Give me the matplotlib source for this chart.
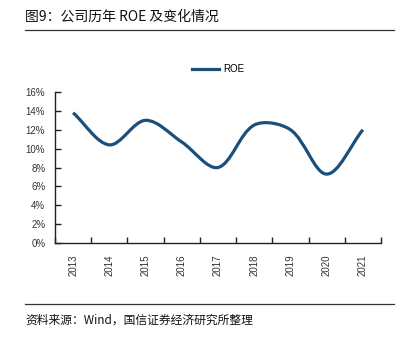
import matplotlib
matplotlib.use('Agg')
import matplotlib.pyplot as plt
import numpy as np
from matplotlib.path import Path
from matplotlib.patches import PathPatch
from matplotlib.lines import Line2D
from matplotlib.ticker import FuncFormatter, MultipleLocator

plt.rcParams['font.family'] = ['Liberation Sans', 'Noto Sans CJK SC', 'DejaVu Sans']

# 数据
years = ['2013', '2014', '2015', '2016', '2017', '2018', '2019', '2020', '2021']
roe = [13.8, 10.4, 13.0, 10.7, 8.0, 12.5, 12.0, 7.3, 12.0]

line_color = '#1A4F7C'

fig = plt.figure(figsize=(4.09, 3.48), dpi=100)
ax = fig.add_axes([55 / 409, 1 - 243 / 348, (381 - 55) / 409, (243 - 92) / 348])

ax.set_xlim(-0.5, len(years) - 0.5)
ax.set_ylim(0, 16)

# 平滑曲线：类似 Excel 的平滑线，控制点按屏幕上相邻线段长度分配
xs = list(range(len(years)))
P = ax.transData.transform(np.column_stack([xs, roe]))
n = len(P)
verts = [P[0]]
codes = [Path.MOVETO]
t = 1 / 3
for i in range(n - 1):
    p0 = P[i - 1] if i > 0 else P[i]
    p1, p2 = P[i], P[i + 1]
    p3 = P[i + 2] if i + 2 < n else P[i + 1]
    d01 = np.hypot(*(p1 - p0))
    d12 = np.hypot(*(p2 - p1))
    d23 = np.hypot(*(p3 - p2))
    f1 = d12 / (d01 + d12) if d01 + d12 > 0 else 0
    f2 = d12 / (d12 + d23) if d12 + d23 > 0 else 0
    c1 = p1 + (p2 - p0) * t * f1
    c2 = p2 - (p3 - p1) * t * f2
    verts += [c1, c2, p2]
    codes += [Path.CURVE4] * 3
verts = ax.transData.inverted().transform(np.array(verts))
ax.add_patch(PathPatch(Path(verts, codes), fill=False, edgecolor=line_color,
                       lw=2.3, capstyle='butt', joinstyle='round'))

ax.yaxis.set_major_locator(MultipleLocator(2))
ax.yaxis.set_major_formatter(FuncFormatter(lambda v, p: '%d%%' % v))

ax.set_xticks([i - 0.5 for i in range(len(years) + 1)])
ax.set_xticklabels([])
ax.set_xticks(xs, minor=True)
ax.set_xticklabels(years, minor=True, rotation=90)
ax.tick_params(axis='x', which='minor', length=0, pad=8, labelsize=7, colors='#333333')
ax.tick_params(axis='x', which='major', direction='in', length=4, width=1, color='#222222')
ax.tick_params(axis='y', direction='in', length=4, width=1, color='#222222',
               pad=7, labelsize=7, labelcolor='#333333')

for s in ['top', 'right']:
    ax.spines[s].set_visible(False)
for s in ['left', 'bottom']:
    ax.spines[s].set_linewidth(1)
    ax.spines[s].set_color('#222222')

handle = Line2D([], [], color=line_color, lw=2.3)
fig.legend([handle], ['ROE'], loc='center', bbox_to_anchor=(218 / 409, 1 - 69 / 348),
           frameon=False, fontsize=7, handlelength=2.8, handletextpad=0.4)

# 标题、来源及横线
fig.text(25 / 409, 1 - 17 / 348, '图9：公司历年 ROE 及变化情况', fontsize=10,
         family=['Noto Sans CJK SC', 'DejaVu Sans'], va='center', ha='left', color='#111111')
fig.add_artist(Line2D([25 / 409, 394 / 409], [1 - 30 / 348] * 2, color='#333333', lw=0.9))
fig.add_artist(Line2D([25 / 409, 394 / 409], [1 - 304 / 348] * 2, color='#333333', lw=0.9))
fig.text(25 / 409, 1 - 320 / 348, '资料来源：Wind，国信证券经济研究所整理', fontsize=8.5,
         family=['Noto Sans CJK SC', 'DejaVu Sans'], va='center', ha='left', color='#111111')

fig.savefig('out.png', dpi=100)
